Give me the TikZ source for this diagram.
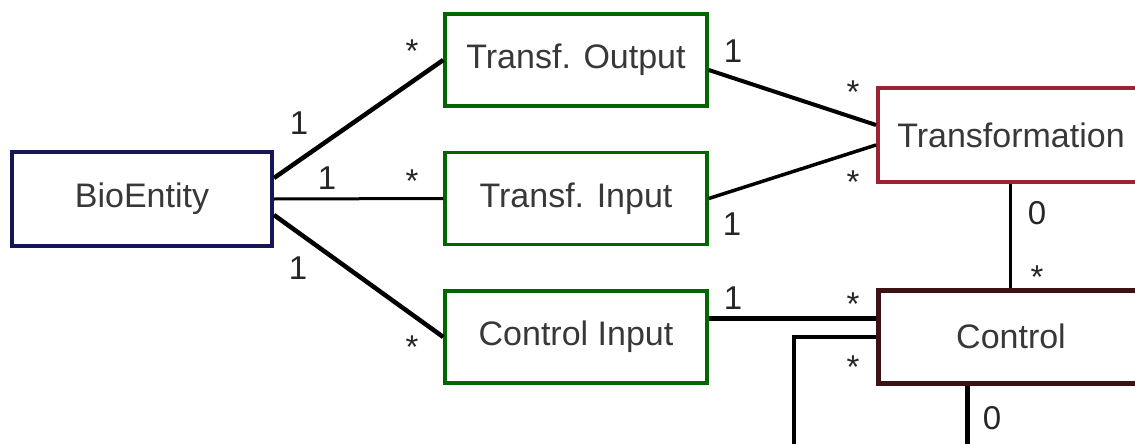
\documentclass[tikz,border=0pt]{standalone}
\usepackage{fontspec}
\setmainfont{Liberation Sans}
\begin{document}
\begin{tikzpicture}[x=1pt,y=-1pt,
  box/.style={draw,line width=4pt,fill=white,inner sep=0pt,text=black!78,font=\fontsize{34}{40}\selectfont},
  greenbox/.style={box,draw=green!40!black,line width=3.5pt,minimum width=262pt,minimum height=92pt},
  lab/.style={anchor=base,inner sep=0pt,text=black!85,font=\fontsize{33}{40}\selectfont},
  thk/.style={line width=4.5pt},
  thn/.style={line width=3pt}]
\clip (0,0) rectangle (1135,444);
\fill[white] (0,0) rectangle (1135,444);
% boxes
\node[box,draw={rgb,255:red,22;green,22;blue,85},minimum width=260pt,minimum height=94pt] (bio) at (142,199) {BioEntity};
\node[greenbox] (tout) at (576,60) {Transf. Output};
\node[greenbox] (tin) at (576,198.5) {Transf. Input};
\node[greenbox] (cin) at (576,337) {Control Input};
\node[box,draw={rgb,255:red,155;green,35;blue,50},minimum width=266pt,minimum height=94pt] (trans) at (1011,135) {Transformation};
\node[box,draw={rgb,255:red,60;green,18;blue,18},line width=5pt,minimum width=266pt,minimum height=93pt] (ctrl) at (1011,336.5) {Control};
\coordinate (c1) at (794,460);
\coordinate (c2) at (967,460);
% connectors
\draw[thk] ([yshift=21pt]bio.east) -- (tout.west);
\draw[thn] (bio.east) -- (tin.west);
\draw[thk] ([yshift=-16pt]bio.east) -- (cin.west);
\draw[line width=4pt] ([yshift=-10pt]tout.east) -- ([yshift=10pt]trans.west);
\draw[line width=3.5pt] (tin.east) -- ([yshift=-10pt]trans.west);
\draw[line width=5pt] ([yshift=19pt]cin.east) -- ([yshift=18.5pt]ctrl.west);
\draw[thn] ([xshift=-1pt]trans.south) -- ([xshift=-1pt]ctrl.north);
\draw[line width=4pt] (ctrl.west) -| (c1);
\draw[line width=5pt] ([xshift=-44pt]ctrl.south) -- (c2);
% multiplicities
\node[lab] (l1) at (412,63) {*};
\node[lab] (l2) at (299,134) {1};
\node[lab] (l3) at (327,189) {1};
\node[lab] (l4) at (412,192) {*};
\node[lab] (l5) at (298,279) {1};
\node[lab] (l6) at (412,358) {*};
\node[lab] (l7) at (733,63) {1};
\node[lab] (l8) at (853,103) {*};
\node[lab] (l9) at (853,193) {*};
\node[lab] (l10) at (732,235) {1};
\node[lab] (l11) at (733,309) {1};
\node[lab] (l12) at (853,315) {*};
\node[lab] (l13) at (853,378) {*};
\node[lab] (l14) at (1037,224) {0};
\node[lab] (l15) at (1037,288) {*};
\node[lab] (l16) at (992,429) {0};
\end{tikzpicture}
\end{document}
